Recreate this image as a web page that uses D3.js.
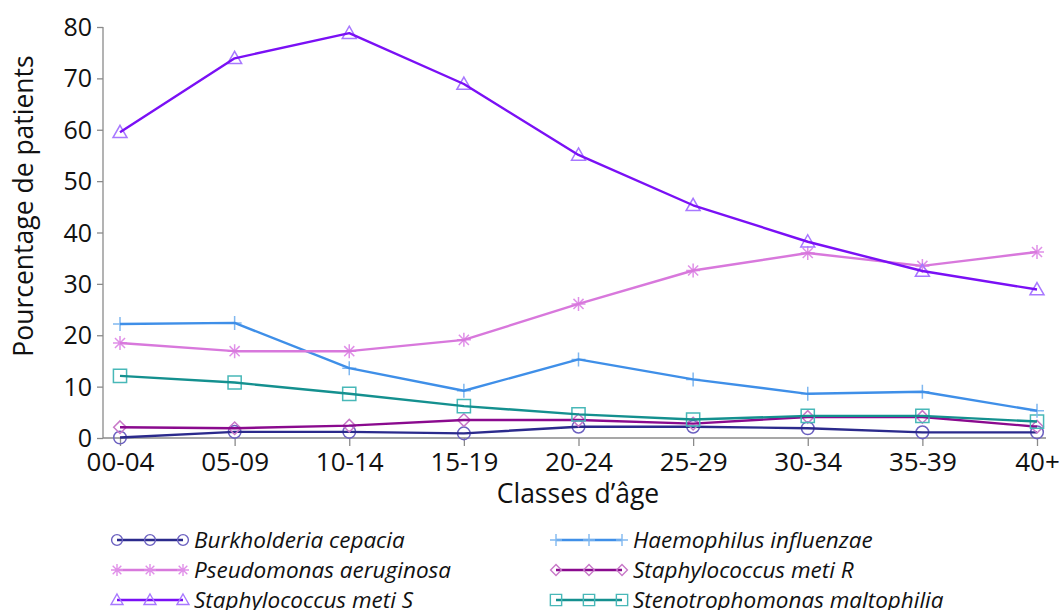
<!DOCTYPE html>
<html><head><meta charset="utf-8">
<script src="https://cdn.jsdelivr.net/npm/d3@7"></script>
<style>body{margin:0;background:#fff}svg{display:block}</style>
</head><body>
<svg id="c" width="1062" height="610"></svg>
<script>
const categories = ["00-04","05-09","10-14","15-19","20-24","25-29","30-34","35-39","40+"];
const yTicks = [0,10,20,30,40,50,60,70,80];
const burkholderia = [0.1,1.2,1.2,0.9,2.2,2.2,1.9,1.1,1.1];
const haemophilus = [22.2,22.4,13.6,9.2,15.3,11.4,8.6,9.0,5.3];
const pseudomonas = [18.5,16.9,16.9,19.1,26.1,32.6,36.0,33.5,36.2];
const staphR = [2.1,1.9,2.4,3.5,3.5,2.8,4.1,4.1,2.2];
const staphS = [59.5,73.9,78.8,68.9,55.1,45.3,38.2,32.5,28.9];
const steno = [12.1,10.8,8.6,6.2,4.6,3.6,4.3,4.3,3.2];
const seriesNames = ["Burkholderia cepacia","Haemophilus influenzae","Pseudomonas aeruginosa","Staphylococcus meti R","Staphylococcus meti S","Stenotrophomonas maltophilia"];
const seriesValues = [burkholderia,haemophilus,pseudomonas,staphR,staphS,steno];
const lineColors = ["#2b2a8c","#3f8fe8","#d878dc","#8a0a8e","#7a10f5","#14908f"];
const markColors = ["#6b60c0","#80b8f0","#e090e8","#c878c8","#a878ff","#48b8b8"];
const markers = ["circle","plus","star","diamond","triangle","square"];

const svg = d3.select("#c");
const x = d3.scalePoint().domain(categories).range([120,1037]);
const y = d3.scaleLinear().domain([0,80]).range([438,27]);
const font = "'Open Sans', sans-serif";

function markerPath(t, s){
  const p = d3.path();
  if(t==="circle"){ p.arc(0,0,s*0.45,0,Math.PI*2); }
  else if(t==="square"){ const h=s*0.47; p.rect(-h,-h,2*h,2*h); }
  else if(t==="diamond"){ const h=s*0.45; p.moveTo(0,-h);p.lineTo(h,0);p.lineTo(0,h);p.lineTo(-h,0);p.closePath(); }
  else if(t==="triangle"){ const h=s*0.5; p.moveTo(0,-h);p.lineTo(h,h*0.75);p.lineTo(-h,h*0.75);p.closePath(); }
  else if(t==="plus"){ const h=s*0.5; p.moveTo(0,-h);p.lineTo(0,h);p.moveTo(-h,0);p.lineTo(h,0); }
  else if(t==="star"){ const h=s*0.5; p.moveTo(0,-h);p.lineTo(0,h);p.moveTo(-h,0);p.lineTo(h,0);
    const d=h*0.72; p.moveTo(-d,-d);p.lineTo(d,d);p.moveTo(-d,d);p.lineTo(d,-d); }
  return p.toString();
}

// axes
const ax = svg.append("g").attr("transform","translate(103,0)")
  .call(d3.axisLeft(y).tickValues(yTicks).tickSize(6).tickPadding(5));
ax.select(".domain").attr("stroke","#8a8a8a").attr("stroke-width",1.3).attr("d","M0,27V438");
ax.selectAll(".tick line").attr("stroke","#8a8a8a").attr("stroke-width",1.3);
ax.selectAll(".tick text").attr("font-family",font).attr("font-size",25).attr("fill","#111").attr("dy","0.34em");

const bx = svg.append("g").attr("transform","translate(0,438)")
  .call(d3.axisBottom(x).tickSize(8).tickPadding(7));
bx.select(".domain").attr("stroke","#8a8a8a").attr("stroke-width",1.3).attr("d","M103,0H1046");
bx.selectAll(".tick line").attr("stroke","#8a8a8a").attr("stroke-width",1.3);
bx.selectAll(".tick text").attr("font-family",font).attr("font-size",26).attr("fill","#111");

svg.append("text").attr("transform","translate(33,206) rotate(-90)").attr("text-anchor","middle")
  .attr("font-family",font).attr("font-size",26.5).attr("fill","#111").text("Pourcentage de patients");
svg.append("text").attr("x",578).attr("y",503).attr("text-anchor","middle")
  .attr("font-family",font).attr("font-size",26.5).attr("fill","#111").text("Classes d’âge");

// series
const line = d3.line().x((d,i)=>x(categories[i])).y(d=>y(d));
const order = [0,3,5,1,2,4];
order.forEach(k=>{
  const g = svg.append("g");
  g.selectAll("path.m").data(seriesValues[k]).join("path").attr("class","m")
    .attr("transform",(d,i)=>`translate(${x(categories[i])},${y(d)})`)
    .attr("d",markerPath(markers[k],14)).attr("fill","none")
    .attr("stroke",markColors[k]).attr("stroke-width",1.5);
  g.append("path").datum(seriesValues[k]).attr("d",line).attr("fill","none")
    .attr("stroke",lineColors[k]).attr("stroke-width",2.4).attr("stroke-linejoin","round");
});

// legend
const lg = svg.append("g");
seriesNames.forEach((n,k)=>{
  const col = k%2, row = Math.floor(k/2);
  const x0 = col===0?117:556, yy = 540+row*30;
  const g = lg.append("g").attr("transform",`translate(${x0},${yy})`);
  g.append("line").attr("x1",0).attr("x2",66).attr("y1",0).attr("y2",0)
    .attr("stroke",lineColors[k]).attr("stroke-width",2.4);
  [0,33,66].forEach(px=>g.append("path").attr("transform",`translate(${px},0)`)
    .attr("d",markerPath(markers[k],12)).attr("fill","none").attr("stroke",markColors[k]).attr("stroke-width",1.4));
  g.append("text").attr("x",77).attr("y",0).attr("dy","0.35em").attr("font-family",font)
    .attr("font-style","italic").attr("font-size",22.5).attr("fill","#111").text(n);
});
</script>
</body></html>
